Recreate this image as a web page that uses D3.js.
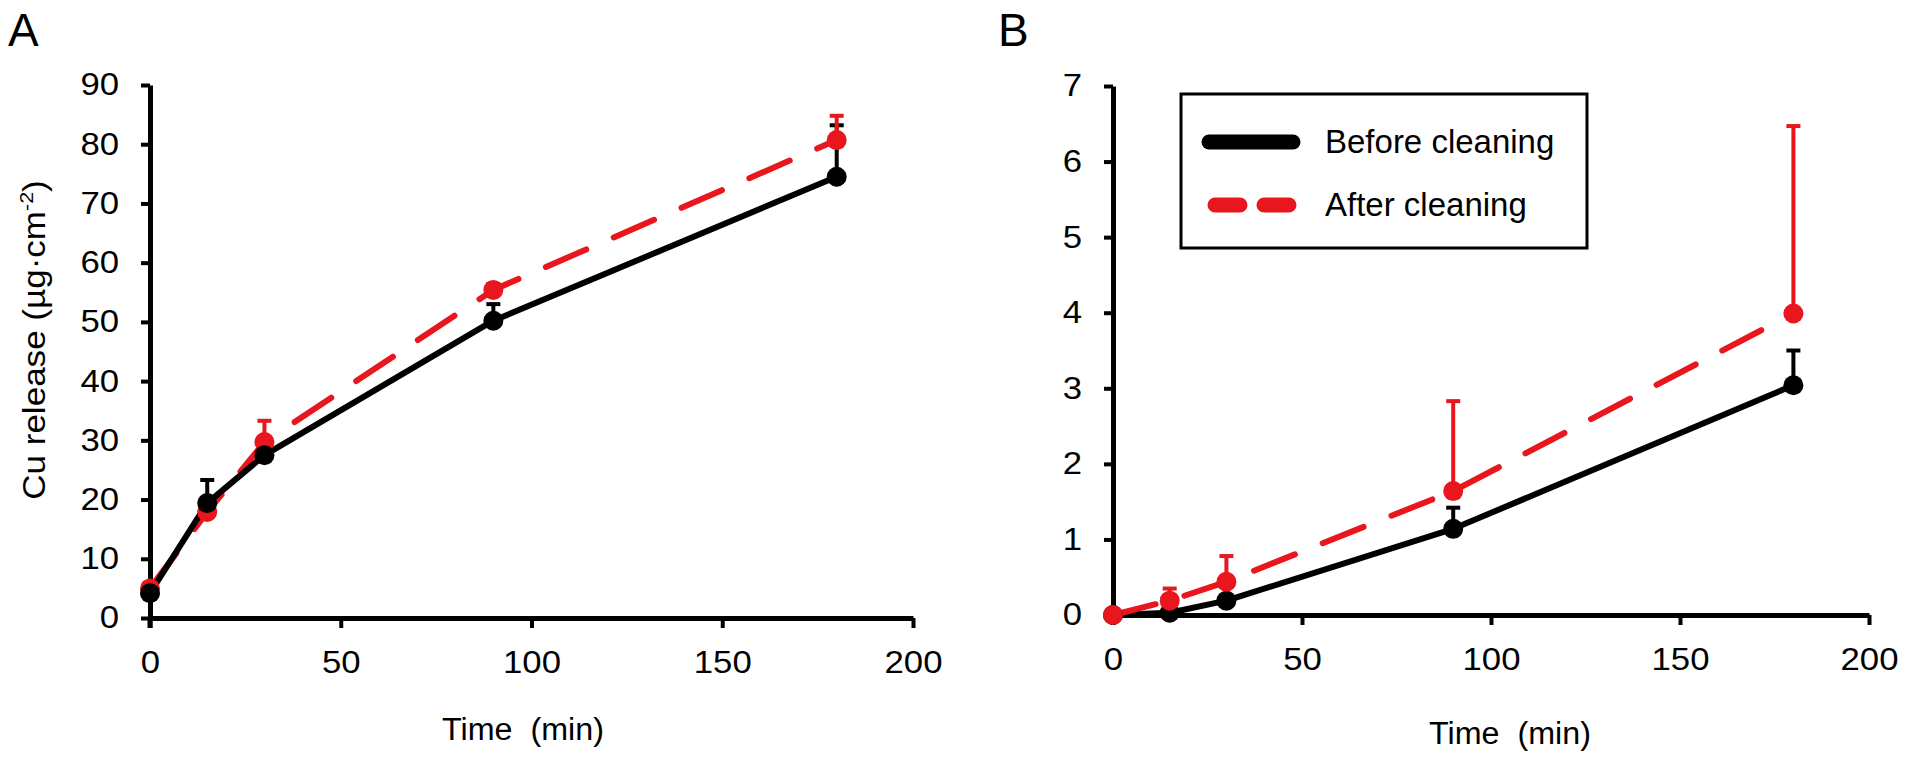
<!DOCTYPE html>
<html>
<head>
<meta charset="utf-8">
<script src="https://cdn.jsdelivr.net/npm/d3@7"></script>
<style>
  html, body { margin: 0; padding: 0; background: #fff; }
  svg { display: block; }
  text { font-family: "Liberation Sans", Arial, sans-serif; fill: #000; }
</style>
</head>
<body>
<svg id="chart" width="1905" height="757"></svg>
<script>
// ---------- data ----------
const timeMin = [0, 15, 30, 90, 180];
const xTicks = [0, 50, 100, 150, 200];
const seriesNames = ["Before cleaning", "After cleaning"];

// Panel A (Cu release, µg·cm-2)
const yTicksA = [0, 10, 20, 30, 40, 50, 60, 70, 80, 90];
const beforeA = [4.2, 19.4, 27.5, 50.2, 74.5];
const beforeAErr = [0.5, 3.9, 0.8, 2.8, 8.7];
const afterA = [5.0, 17.9, 29.7, 55.4, 80.7];
const afterAErr = [0.5, 1.0, 3.6, 1.0, 4.1];

// Panel B
const yTicksB = [0, 1, 2, 3, 4, 5, 6, 7];
const beforeB = [0.0, 0.03, 0.19, 1.14, 3.04];
const beforeBErr = [0.01, 0.03, 0.05, 0.28, 0.46];
const afterB = [0.0, 0.19, 0.44, 1.64, 3.99];
const afterBErr = [0.02, 0.16, 0.34, 1.19, 2.48];

// ---------- styles ----------
const RED = "#e8161d";
const BLACK = "#000";
const FONT = 31;

const svg = d3.select("#chart");

function stretch(sel, factor) {
  sel.each(function () {
    const len = this.getComputedTextLength();
    d3.select(this).attr("textLength", len * factor).attr("lengthAdjust", "spacingAndGlyphs");
  });
}

function panel(opts) {
  const g = svg.append("g");
  const x = d3.scaleLinear().domain([0, 200]).range([opts.x0, opts.x1]);
  const y = d3.scaleLinear().domain([0, opts.yMax]).range([opts.y0, opts.y1]);

  // axes
  const xAxis = d3.axisBottom(x).tickValues(xTicks).tickSize(10).tickSizeOuter(0).tickPadding(23).tickFormat(d3.format("d"));
  const yAxis = d3.axisLeft(y).tickValues(opts.yTicks).tickSize(9).tickSizeOuter(0).tickPadding(22).tickFormat(d3.format("d"));

  const gx = g.append("g").attr("transform", `translate(0,${opts.y0})`).call(xAxis);
  const gy = g.append("g").attr("transform", `translate(${opts.x0},0)`).call(yAxis);
  [gx, gy].forEach(a => {
    a.select(".domain").attr("stroke", BLACK).attr("stroke-width", 5);
    a.selectAll(".tick line").attr("stroke", BLACK).attr("stroke-width", 4);
    a.selectAll(".tick text").attr("font-size", FONT).attr("font-family", "Liberation Sans, Arial, sans-serif").attr("fill", BLACK);
    stretch(a.selectAll(".tick text"), 1.12);
  });
  // extend y-axis to cover corner
  g.append("line").attr("x1", opts.x0).attr("x2", opts.x0)
    .attr("y1", opts.y0).attr("y2", opts.y0 + 10)
    .attr("stroke", BLACK).attr("stroke-width", 5);

  // axis titles
  const xt = g.append("text").attr("x", opts.xTitleX).attr("y", opts.xTitleY)
    .attr("text-anchor", "middle").attr("font-size", FONT)
    .style("white-space", "pre").text("Time  (min)");
  stretch(xt, 1.04);

  if (opts.yTitle) {
    const t = g.append("text")
      .attr("transform", `translate(${opts.yTitleX},${opts.yTitleY}) rotate(-90)`)
      .attr("text-anchor", "middle").attr("font-size", 31);
    t.append("tspan").text("Cu release (µg·cm");
    t.append("tspan").attr("font-size", 19).attr("dy", -12).text("-2");
    t.append("tspan").attr("dy", 12).text(")");
    stretch(t, 1.13);
  }

  // panel letter
  g.append("text").attr("x", opts.letterX).attr("y", 46)
    .attr("font-size", 46).text(opts.letter);

  const data = (vals, errs) => timeMin.map((t, i) => ({ t, v: vals[i], e: errs[i] }));
  const series = [
    { name: seriesNames[0], d: data(opts.before, opts.beforeErr), color: BLACK, dash: null, w: 6 },
    { name: seriesNames[1], d: data(opts.after, opts.afterErr), color: RED, dash: "44 30", w: 6 }
  ];

  // error bars (upper only)
  series.forEach(s => {
    const eb = g.append("g");
    eb.selectAll("line.v").data(s.d).join("line")
      .attr("x1", d => x(d.t)).attr("x2", d => x(d.t))
      .attr("y1", d => y(d.v)).attr("y2", d => y(d.v + d.e))
      .attr("stroke", s.color).attr("stroke-width", 4);
    eb.selectAll("line.c").data(s.d).join("line")
      .attr("x1", d => x(d.t) - 7).attr("x2", d => x(d.t) + 7)
      .attr("y1", d => y(d.v + d.e)).attr("y2", d => y(d.v + d.e))
      .attr("stroke", s.color).attr("stroke-width", 4);
  });

  const line = d3.line().x(d => x(d.t)).y(d => y(d.v));
  const order = opts.redOnTop ? [0, 1] : [1, 0];
  order.forEach(k => {
    const s = series[k];
    g.append("path").datum(s.d).attr("d", line)
      .attr("fill", "none").attr("stroke", s.color).attr("stroke-width", s.w)
      .attr("stroke-linecap", "round").attr("stroke-linejoin", "round")
      .attr("stroke-dasharray", s.dash);
  });
  order.forEach(k => {
    const s = series[k];
    g.append("g").selectAll("circle").data(s.d).join("circle")
      .attr("cx", d => x(d.t)).attr("cy", d => y(d.v)).attr("r", 10)
      .attr("fill", s.color);
  });
  return { g, x, y };
}

panel({
  x0: 150, x1: 913, y0: 618, y1: 85, yMax: 90, yTicks: yTicksA,
  before: beforeA, beforeErr: beforeAErr, after: afterA, afterErr: afterAErr,
  xTitleX: 523, xTitleY: 740, yTitle: true, yTitleX: 45, yTitleY: 340,
  letter: "A", letterX: 8, redOnTop: false
});

panel({
  x0: 1113, x1: 1869, y0: 615, y1: 86, yMax: 7, yTicks: yTicksB,
  before: beforeB, beforeErr: beforeBErr, after: afterB, afterErr: afterBErr,
  xTitleX: 1510, xTitleY: 744, yTitle: false,
  letter: "B", letterX: 998, redOnTop: true
});

// legend (panel B)
const lg = svg.append("g");
lg.append("rect").attr("x", 1181).attr("y", 94).attr("width", 406).attr("height", 154)
  .attr("fill", "#fff").attr("stroke", BLACK).attr("stroke-width", 3);
const legendRows = [
  { name: seriesNames[0], color: BLACK, dash: null, y: 142 },
  { name: seriesNames[1], color: RED, dash: "25 24", y: 205 }
];
legendRows.forEach(r => {
  lg.append("line")
    .attr("x1", r.dash ? 1215 : 1209).attr("x2", r.dash ? 1291 : 1293)
    .attr("y1", r.y).attr("y2", r.y)
    .attr("stroke", r.color).attr("stroke-width", 15)
    .attr("stroke-linecap", "round").attr("stroke-dasharray", r.dash);
  lg.append("text").attr("x", 1325).attr("y", r.y + 11)
    .attr("font-size", 33).text(r.name);
});
</script>
</body>
</html>
